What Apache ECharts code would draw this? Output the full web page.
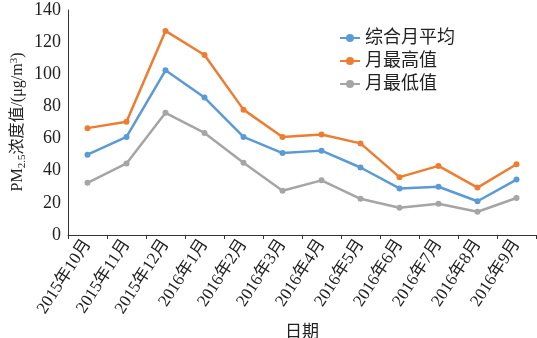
<!DOCTYPE html>
<html><head><meta charset="utf-8">
<script src="https://cdn.jsdelivr.net/npm/echarts@6/dist/echarts.min.js"></script>
<style>html,body{margin:0;padding:0;background:#fff}#c{width:537px;height:338px}</style>
</head><body><div id="c"></div>
<script>
const categories = ['2015年10月','2015年11月','2015年12月','2016年1月','2016年2月','2016年3月','2016年4月','2016年5月','2016年6月','2016年7月','2016年8月','2016年9月'];
const avgValues = [50, 61, 102.5, 85.5, 61, 51, 52.5, 42, 29, 30, 21, 34.5];
const maxValues = [66.5, 70.5, 127, 112, 78, 61, 62.5, 57, 36, 43, 29.5, 44];
const minValues = [32.5, 44.5, 76, 63.5, 45, 27.5, 34, 22.5, 17, 19.5, 14.5, 23];
const seriesNames = ['综合月平均','月最高值','月最低值'];
const yTicks = [0, 20, 40, 60, 80, 100, 120, 140];
const yTitle = '{a|PM}{s|2.5}{a|浓度值/(μg/m}{p|3}{a|)}';

const FONT = '"Liberation Serif", "Noto Sans CJK SC", serif';
const chart = echarts.init(document.getElementById('c'));
const mk = (name, data, color) => ({
  name, type: 'line', data, symbol: 'circle', symbolSize: 6,
  itemStyle: { color }, lineStyle: { color, width: 2.5 }
});
chart.setOption({
  animation: false,
  textStyle: { fontFamily: FONT },
  grid: { left: 68, right: 1, top: 10, bottom: 103, containLabel: false, outerBoundsMode: 'none' },
  legend: {
    orient: 'vertical', left: 334, top: 24, itemGap: 5,
    itemWidth: 20, itemHeight: 10,
    textStyle: { fontFamily: FONT, fontSize: 18, color: '#222' },
    data: seriesNames
  },
  graphic: [{
    type: 'text', x: 18, y: 122, rotation: Math.PI / 2,
    style: {
      text: yTitle, align: 'center', verticalAlign: 'middle', fill: '#222',
      rich: {
        a: { fontSize: 16, fontFamily: FONT, fill: '#222' },
        s: { fontSize: 11, fontFamily: FONT, fill: '#222', padding: [8, 0, 0, 0] },
        p: { fontSize: 11, fontFamily: FONT, fill: '#222', padding: [0, 0, 8, 0] }
      }
    }
  }],
  xAxis: {
    type: 'category', data: categories, boundaryGap: true,
    axisLine: { lineStyle: { color: '#333', width: 1 } },
    axisTick: { show: true, length: 4, lineStyle: { color: '#333' } },
    axisLabel: { rotate: 57, fontSize: 17, color: '#222', fontFamily: FONT, margin: 6, interval: 0 },
    name: '日期', nameLocation: 'middle', nameGap: 86,
    nameTextStyle: { fontSize: 17, color: '#222', fontFamily: FONT }
  },
  yAxis: {
    type: 'value', min: yTicks[0], max: yTicks[yTicks.length - 1], interval: 20,
    splitLine: { show: false },
    axisLine: { show: true, lineStyle: { color: '#333', width: 1 } },
    axisTick: { show: false },
    axisLabel: { fontSize: 18, color: '#222', fontFamily: FONT, margin: 7 }
  },
  series: [
    mk(seriesNames[0], avgValues, '#5B9BD5'),
    mk(seriesNames[1], maxValues, '#ED7D31'),
    mk(seriesNames[2], minValues, '#A5A5A5')
  ]
});
</script></body></html>
